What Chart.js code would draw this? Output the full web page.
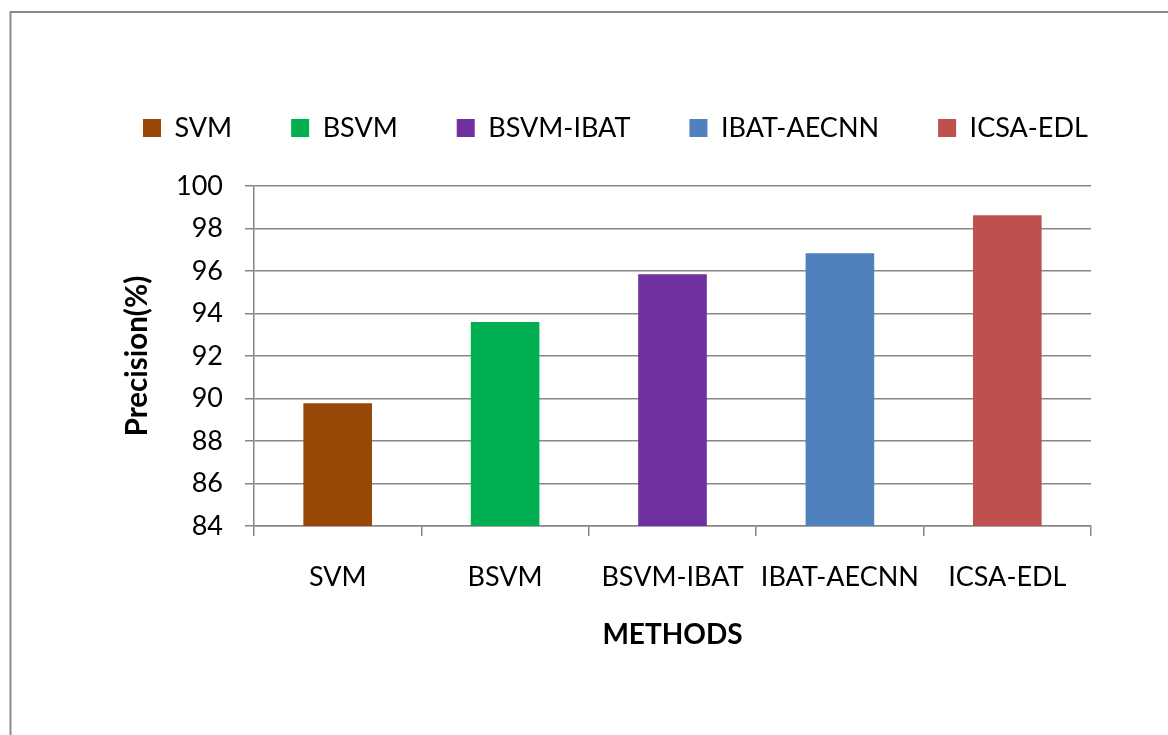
<!DOCTYPE html>
<html>
<head>
<meta charset="utf-8">
<title>Precision by method</title>
<script src="https://cdn.jsdelivr.net/npm/chart.js@4/dist/chart.umd.min.js"></script>
<style>
  html, body { margin: 0; padding: 0; background: #ffffff; }
  #wrap { position: relative; width: 1168px; height: 735px; }
  canvas { display: block; }
</style>
</head>
<body>
<div id="wrap"><canvas id="chart" width="1168" height="735"></canvas></div>
<script>
// Methods compared and their precision (%)
const methods = ['SVM', 'BSVM', 'BSVM-IBAT', 'IBAT-AECNN', 'ICSA-EDL'];
const precision = [89.78, 93.6, 95.85, 96.83, 98.62];
const barColors = ['#974706', '#00B050', '#7030A0', '#4F81BD', '#C0504D'];
const yTicks = [84, 86, 88, 90, 92, 94, 96, 98, 100];

const axisGray = '#878787';
const fontFamily = "Lato, 'Open Sans', sans-serif";

// Thin gray frame along the top and left edges, white background
const framePlugin = {
  id: 'frame',
  beforeDraw(chart) {
    const ctx = chart.ctx;
    ctx.save();
    ctx.fillStyle = '#ffffff';
    ctx.fillRect(0, 0, chart.width, chart.height);
    ctx.strokeStyle = '#8a8a8a';
    ctx.lineWidth = 2;
    ctx.beginPath();
    ctx.moveTo(10.5, chart.height);
    ctx.lineTo(10.5, 12);
    ctx.lineTo(chart.width, 12);
    ctx.stroke();
    ctx.restore();
  }
};

// Extra space between the legend row and the plot
const legendGap = {
  id: 'legendGap',
  beforeInit(chart) {
    const lg = chart.legend;
    if (!lg) return;
    const fit = lg.fit;
    lg.fit = function () {
      fit.call(this);
      this.height += 34.5;
    };
  }
};

new Chart(document.getElementById('chart'), {
  type: 'bar',
  data: {
    labels: methods,
    datasets: [{
      label: 'Precision(%)',
      data: precision,
      backgroundColor: barColors,
      borderWidth: 0,
      barPercentage: 0.41,
      categoryPercentage: 1.0
    }]
  },
  options: {
    responsive: false,
    animation: false,
    devicePixelRatio: 1,
    layout: { padding: { left: 84, top: 55.5, right: 0, bottom: 0 } },
    plugins: {
      tooltip: { enabled: false },
      legend: {
        display: true,
        position: 'top',
        align: 'start',
        onClick: null,
        labels: {
          font: { family: fontFamily, size: 27 },
          color: '#000000',
          boxWidth: 18,
          boxHeight: 18,
          padding: 59,
          generateLabels: () => methods.map((m, i) => ({
            text: m,
            fillStyle: barColors[i],
            strokeStyle: barColors[i],
            lineWidth: 0,
            hidden: false,
            index: i,
            datasetIndex: 0,
            fontColor: '#000000'
          }))
        }
      }
    },
    scales: {
      x: {
        type: 'category',
        offset: true,
        grid: {
          display: true,
          drawOnChartArea: false,
          drawTicks: true,
          tickLength: 10,
          color: axisGray,
          lineWidth: 1.5,
          offset: true
        },
        border: { display: true, color: axisGray, width: 1.5 },
        ticks: {
          color: '#000000',
          font: { family: fontFamily, size: 27 },
          padding: 25,
          maxRotation: 0,
          autoSkip: false
        },
        title: {
          display: true,
          text: 'METHODS',
          color: '#000000',
          font: { family: fontFamily, size: 28, weight: 'bold' },
          padding: { top: 0, bottom: 83 }
        },
        afterFit(s) { s.height = 209; }
      },
      y: {
        type: 'linear',
        position: 'left',
        min: 84,
        max: 100,
        afterBuildTicks(s) { s.ticks = yTicks.map(v => ({ value: v })); },
        grid: {
          color: axisGray,
          lineWidth: 1.5,
          drawTicks: true,
          tickLength: 9
        },
        border: { display: true, color: axisGray, width: 1.5 },
        ticks: {
          color: '#000000',
          font: { family: fontFamily, size: 27 },
          padding: 22
        },
        title: {
          display: true,
          text: 'Precision(%)',
          color: '#000000',
          font: { family: fontFamily, size: 29.5, weight: 'bold' },
          padding: { top: 36, bottom: 0 }
        },
        afterFit(s) { s.width = 170; }
      },
      // right-hand margin beside the plot
      spacer: {
        type: 'linear',
        position: 'right',
        display: true,
        grid: { display: false, drawTicks: false },
        border: { display: false },
        ticks: { display: false },
        afterFit(s) { s.width = 77; }
      }
    }
  },
  plugins: [framePlugin, legendGap]
});
</script>
</body>
</html>
